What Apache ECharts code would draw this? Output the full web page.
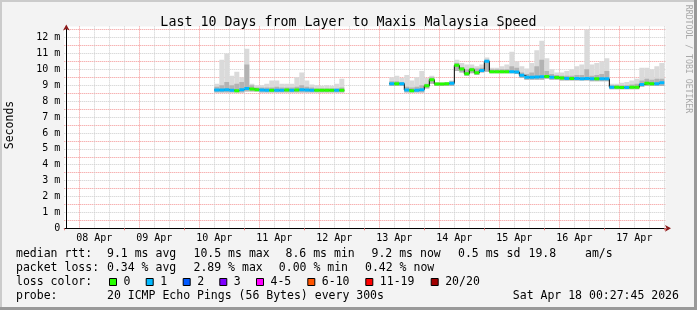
<!DOCTYPE html>
<html><head><meta charset="utf-8">
<script src="https://cdn.jsdelivr.net/npm/echarts@6/dist/echarts.min.js"></script>
<style>html,body{margin:0;padding:0;background:#f3f3f3;}#c{width:697px;height:310px;}</style>
</head><body><div id="c"></div>
<script>
// ---- data (hours since 08 Apr 00:00) ----
const dayLabels = ['08 Apr','09 Apr','10 Apr','11 Apr','12 Apr','13 Apr','14 Apr','15 Apr','16 Apr','17 Apr'];
const yTickLabels = ['0','1 m','2 m','3 m','4 m','5 m','6 m','7 m','8 m','9 m','10 m','11 m','12 m'];
const times = [60,62,64,66,68,70,72,74,76,78,80,82,84,86,88,90,92,94,96,98,100,102,104,106,108,110,112,
  130,132,134,136,138,140,142,144,146,148,150,152,154,156,158,160,162,164,166,168,170,172,174,176,178,180,182,184,186,188,
  190,192,194,196,198,200,202,204,206,208,210,212,214,216,218,220,222,224,226,228,230,232,234,236,238];
const median = [8.70,8.70,8.72,8.68,8.66,8.72,8.80,8.76,8.72,8.70,8.68,8.68,8.68,8.68,8.70,8.68,8.70,8.72,8.70,8.68,8.68,8.68,8.68,8.68,8.68,8.68,null,
  9.10,9.10,9.10,8.70,8.66,8.68,8.72,8.96,9.35,9.08,9.07,9.10,9.12,10.25,10.02,9.72,9.98,9.78,9.92,10.50,9.85,9.85,9.85,9.85,9.85,9.83,9.62,9.50,9.50,9.52,
  9.53,9.55,9.50,9.48,9.45,9.42,9.42,9.42,9.40,9.42,9.40,9.40,9.40,9.40,8.88,8.87,8.86,8.86,8.87,8.87,9.05,9.12,9.10,9.10,9.15];
const lostPings = [1,1,1,1,0,1,1,0,0,1,1,0,1,1,0,1,0,1,1,1,0,0,0,0,1,0,null,
  1,0,1,1,0,1,1,0,0,0,0,0,1,0,0,0,0,0,1,1,0,0,0,0,1,1,1,1,1,1,
  1,0,1,0,0,1,0,1,1,1,1,0,1,1,1,0,0,1,0,0,1,0,0,1,1];
const smokeMin = [8.55,8.55,8.55,8.55,8.55,8.55,8.60,8.60,8.60,8.55,8.55,8.55,8.55,8.55,8.55,8.55,8.55,8.55,8.55,8.55,8.55,8.55,8.55,8.55,8.55,8.55,null,
  8.95,8.95,8.95,8.55,8.55,8.55,8.55,8.80,9.10,8.95,8.95,8.95,8.95,9.90,9.80,9.60,9.75,9.65,9.80,9.85,9.75,9.75,9.75,9.75,9.75,9.70,9.45,9.35,9.35,9.35,
  9.35,9.40,9.35,9.35,9.30,9.30,9.30,9.30,9.30,9.30,9.25,9.25,9.25,9.25,8.75,8.75,8.75,8.75,8.75,8.75,8.90,8.95,8.95,8.95,8.95];
const smokeHigh = [8.90,9.00,9.20,9.00,9.10,9.20,10.30,9.00,8.85,8.85,8.85,8.85,8.90,8.85,8.85,8.85,8.90,9.00,8.90,8.85,8.80,8.80,8.80,8.80,8.80,8.85,null,
  9.25,9.25,9.20,8.90,8.85,8.90,9.00,9.10,9.50,9.15,9.15,9.15,9.25,10.40,10.15,10.00,10.10,10.05,10.10,10.60,10.00,10.00,10.00,10.00,10.20,10.10,9.80,9.70,9.80,10.20,
  10.60,9.90,9.70,9.65,9.60,9.60,9.60,9.65,9.65,10.00,9.60,9.65,9.70,9.90,9.00,9.00,9.00,9.00,9.05,9.10,9.30,9.40,9.35,9.40,9.40];
const smokeMax = [9.10,10.60,11.00,9.60,9.85,9.50,11.30,9.10,9.00,9.00,9.10,9.30,9.30,9.10,9.10,9.10,9.50,9.80,9.30,9.05,9.00,8.95,9.00,8.95,9.10,9.40,null,
  9.50,9.60,9.45,9.65,9.30,9.50,9.90,9.45,9.60,9.20,9.15,9.20,9.30,10.60,10.40,10.30,10.30,10.20,10.30,10.75,10.10,10.10,10.20,10.30,11.10,10.50,10.20,10.05,10.40,11.20,
  11.80,10.70,10.00,9.80,9.80,9.90,10.00,10.20,10.30,12.50,10.30,10.40,10.50,10.70,9.10,9.10,9.15,9.20,9.30,9.40,10.10,10.10,10.00,10.20,10.40];
const STEP = 2; // hours per sample
const lossColors = ['#26ff00','#00b8ff','#0059ff','#7e00ff','#ff00ff','#ff5500','#ff0000','#a10000'];
const lossLabels = ['0','1','2','3','4-5','6-10','11-19','20/20'];
const statLine1 = [['median rtt:',16],['9.1 ms avg',107],['10.5 ms max',193.5],['8.6 ms min',285.5],['9.2 ms now',371.5],['0.5 ms sd',458],['19.8',528.5],['am/s',585]];
const statLine2 = [['packet loss:',16],['0.34 % avg',107],['2.89 % max',193.5],['0.00 % min',278.8],['0.42 % now',365]];
const probeLine = [['probe:',16],['20 ICMP Echo Pings (56 Bytes) every 300s',107],['Sat Apr 18 00:27:45 2026',512.8]];

const MONO = 'DejaVu Sans Mono';
const RED = 'rgba(240,120,120,0.8)', GRAY = '#cccccc';
const chart = echarts.init(document.getElementById('c'), null, {renderer:'canvas'});

const smokeData = times.map((t,i)=>[t, smokeMin[i], smokeHigh[i], smokeMax[i]]);
const medData = times.map((t,i)=>[t, median[i], lostPings[i]]);

const g = [];
const legText = (s,x,y)=>g.push({type:'text', x:x, y:y, style:{text:s, fontFamily:MONO, fontSize:11.5, fill:'#000', align:'left', verticalAlign:'middle'}});
statLine1.forEach(([s,x])=>legText(s,x,254.3));
statLine2.forEach(([s,x])=>legText(s,x,267.8));
legText('loss color:',16,282.3);
const boxX = [109,145.7,182.7,219.3,256,307.3,365.3,430.7];
lossLabels.forEach((s,i)=>{
  g.push({type:'rect', shape:{x:boxX[i]+0.5, y:278.5, width:7, height:7}, style:{fill:lossColors[i], stroke:'#000', lineWidth:1}});
  legText(s, boxX[i]+14.5, 282.3);
});
probeLine.forEach(([s,x])=>legText(s,x,295.8));
g.push({type:'text', x:10, y:125, rotation:Math.PI/2, style:{text:'Seconds', fontFamily:MONO, fontSize:11.5, fill:'#000', align:'center', verticalAlign:'middle'}});
g.push({type:'text', x:688, y:59, rotation:-Math.PI/2, style:{text:'RRDTOOL / TOBI OETIKER', fontFamily:MONO, fontSize:8.2, fill:'#a8a8a8', align:'center', verticalAlign:'middle'}});
g.push({type:'rect', shape:{x:0,y:0,width:697,height:2}, style:{fill:'#cbcbcb'}});
g.push({type:'rect', shape:{x:0,y:0,width:2,height:310}, style:{fill:'#cbcbcb'}});
g.push({type:'rect', shape:{x:694,y:0,width:3,height:310}, style:{fill:'#999999'}});
g.push({type:'rect', shape:{x:0,y:307,width:697,height:3}, style:{fill:'#999999'}});

const XMAX = 240.4625, YMAX = 12.7;
chart.setOption({
  animation:false,
  backgroundColor:'#f3f3f3',
  title:{text:'Last 10 Days from Layer to Maxis Malaysia Speed', left:'center', top:11,
    textStyle:{fontFamily:MONO, fontSize:13.3, fontWeight:'normal', color:'#000'}},
  grid:{left:64.3, top:26.4, width:601.2, height:201.9, show:true, backgroundColor:'#fff', borderWidth:0, outerBoundsMode:'none', containLabel:false},
  xAxis:[
    {type:'value', position:'bottom', min:0, max:XMAX, interval:6,
     axisLine:{show:true, onZero:false, lineStyle:{color:'#000', width:1}},
     axisTick:{show:false},
     axisLabel:{formatter:v=> (v%24===12) ? dayLabels[(v-12)/24] : '', fontFamily:MONO, fontSize:10, color:'#000', margin:5, showMaxLabel:false, showMinLabel:false},
     splitLine:{show:true, showMinLine:false, showMaxLine:false, lineStyle:{color:[RED,GRAY,GRAY,GRAY], type:[1,1], width:1}}},
    {type:'value', position:'bottom', min:0, max:XMAX, interval:24,
     axisLine:{show:true, onZero:false, symbol:['none','arrow'], symbolSize:[5,6], symbolOffset:[0,5.5], lineStyle:{color:'#8b1a1a', width:0}},
     axisTick:{show:true, length:2, lineStyle:{color:'#f08080'}},
     axisLabel:{show:false}, splitLine:{show:false}}
  ],
  yAxis:[
    {type:'value', position:'left', min:0, max:YMAX, interval:0.5, offset:-2,
     axisLine:{show:true, onZero:false, lineStyle:{color:'#000', width:1}},
     axisTick:{show:false},
     axisLabel:{formatter:v=> Number.isInteger(v) ? yTickLabels[v] : '', fontFamily:MONO, fontSize:10, color:'#000', margin:6},
     splitLine:{show:true, showMinLine:false, showMaxLine:false, lineStyle:{color:[RED,GRAY], type:[1,1], width:1}}},
    {type:'value', position:'left', min:0, max:YMAX, offset:-2,
     axisLine:{show:true, onZero:false, symbol:['none','arrow'], symbolSize:[5,6], symbolOffset:[0,2], lineStyle:{color:'#8b1a1a', width:0}},
     axisTick:{show:false}, axisLabel:{show:false}, splitLine:{show:false}}
  ],
  series:[
    {type:'custom', xAxisIndex:0, yAxisIndex:0, data:smokeData, encode:{x:0, y:[1,2,3]}, z:2, clip:true,
     renderItem:(params, api)=>{
       const lo = api.value(1);
       if (isNaN(lo)) return null;
       const t = api.value(0);
       const w = api.size([STEP,0])[0];
       const pLo = api.coord([t, lo]), pHi = api.coord([t, api.value(2)]), pMax = api.coord([t, api.value(3)]);
       return {type:'group', children:[
         {type:'rect', shape:{x:pLo[0], y:pMax[1], width:w, height:pLo[1]-pMax[1]}, style:{fill:'#dadada'}},
         {type:'rect', shape:{x:pLo[0], y:pHi[1], width:w, height:pLo[1]-pHi[1]}, style:{fill:'#b3b3b3'}}
       ]};
     }},
    {type:'line', xAxisIndex:0, yAxisIndex:0, data:medData.map(d=>[d[0],d[1]]), step:'end', showSymbol:false, connectNulls:false,
     lineStyle:{color:'#000', width:1}, z:3},
    {type:'custom', xAxisIndex:0, yAxisIndex:0, data:medData, encode:{x:0, y:1}, z:4, clip:true,
     renderItem:(params, api)=>{
       const m = api.value(1);
       if (isNaN(m)) return null;
       const t = api.value(0);
       const w = api.size([STEP,0])[0];
       const p = api.coord([t, m]);
       return {type:'rect', shape:{x:p[0], y:p[1]-1.5, width:w, height:3}, style:{fill:lossColors[api.value(2)]}};
     }}
  ],
  graphic:g
});
</script></body></html>
